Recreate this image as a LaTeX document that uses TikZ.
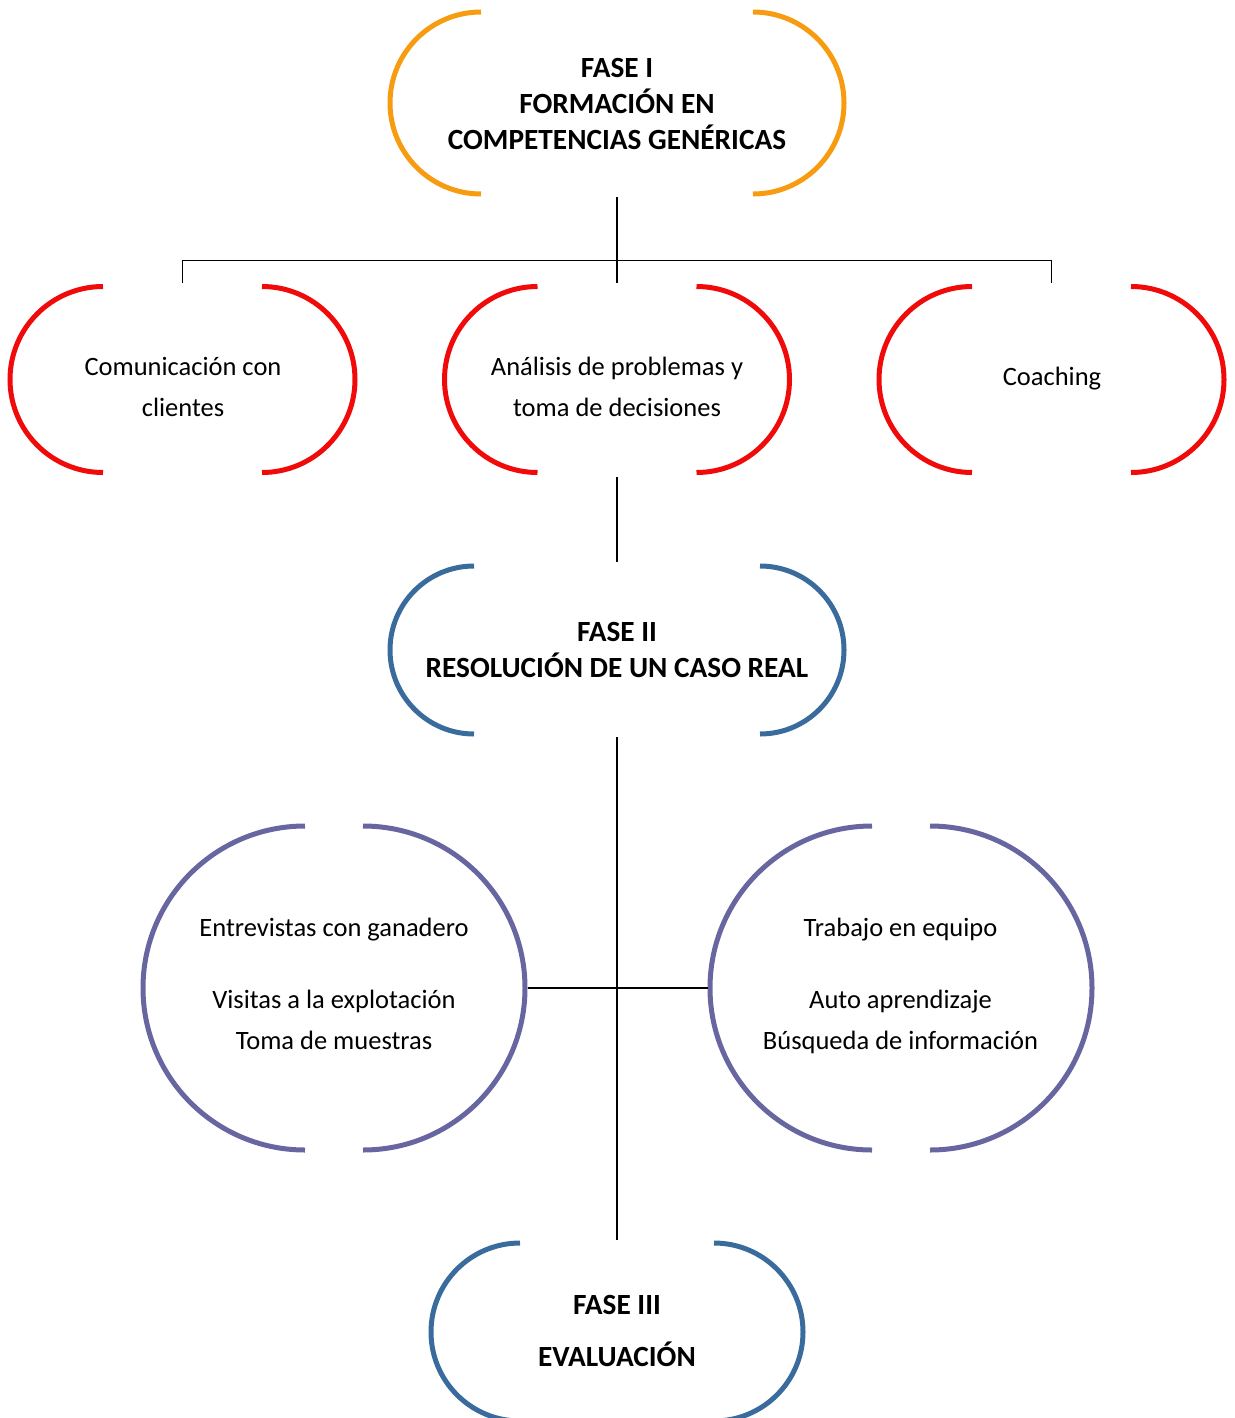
\documentclass[tikz,border=0pt]{standalone}
\usepackage{fontspec}
\setmainfont{Carlito}
\usetikzlibrary{calc}
\definecolor{cOrange}{HTML}{F79B10}
\definecolor{cRed}{HTML}{F00A0A}
\definecolor{cBlue}{HTML}{3A6B9D}
\definecolor{cPurple}{HTML}{6866A0}
\tikzset{
 box/.style={rectangle, inner sep=0pt, outer sep=0pt},
 arcline/.style={line width=5pt},
 conn/.style={line width=1.9pt, black},
 boldtxt/.style={align=center, font=\fontsize{29.3}{36}\selectfont\bfseries, inner sep=0pt},
 regtxt/.style={align=center, font=\fontsize{26.5}{41}\selectfont, inner sep=0pt},
}
\newcommand\stadiumarcs[3]{%
 \draw[arcline,#3] ($(#1.north west)+(#2,0)$) arc[start angle=90,end angle=270,radius=#2pt];
 \draw[arcline,#3] ($(#1.north east)-(#2,0)$) arc[start angle=90,end angle=-90,radius=#2pt];}
\begin{document}
\begin{tikzpicture}[x=1pt,y=-1pt]
\useasboundingbox (0,0) rectangle (1234,1418);
% shapes
\node[box, minimum width=454pt, minimum height=182pt] (f1) at (617,103) {};
\stadiumarcs{f1}{91}{cOrange}
\node[box, minimum width=345pt, minimum height=186pt] (c1) at (182.5,379.5) {};
\stadiumarcs{c1}{93}{cRed}
\node[box, minimum width=345pt, minimum height=186pt] (c2) at (617,379.5) {};
\stadiumarcs{c2}{93}{cRed}
\node[box, minimum width=345pt, minimum height=186pt] (c3) at (1051.5,379.5) {};
\stadiumarcs{c3}{93}{cRed}
\node[box, minimum width=454pt, minimum height=168pt] (f2) at (617,650) {};
\stadiumarcs{f2}{84}{cBlue}
\node[box, minimum width=372pt, minimum height=178pt] (f3) at (617,1332) {};
\stadiumarcs{f3}{89}{cBlue}
\node[box, minimum width=382pt, minimum height=324pt] (p1) at (334,988) {};
\stadiumarcs{p1}{162}{cPurple}
\node[box, minimum width=382pt, minimum height=324pt] (p2) at (901,988) {};
\stadiumarcs{p2}{162}{cPurple}
% texts
\node[boldtxt] (f1t) at (617,106.8) {\strut FASE I\\\strut FORMACIÓN EN\\\strut COMPETENCIAS GENÉRICAS};
\node[regtxt] (c1t) at (183,387.8) {\strut Comunicación con\\\strut clientes};
\node[regtxt] (c2t) at (617,387.8) {\strut Análisis de problemas y\\\strut toma de decisiones};
\node[regtxt] (c3t) at (1052,376.8) {\strut Coaching};
\node[boldtxt] (f2t) at (617,652) {\strut FASE II\\\strut RESOLUCIÓN DE UN CASO REAL};
\node[regtxt] (p1t) at (334,984.7) {\strut Entrevistas con ganadero\\[31.3pt]\strut Visitas a la explotación\\\strut Toma de muestras};
\node[regtxt] (p2t) at (900.5,984.7) {\strut Trabajo en equipo\\[31.3pt]\strut Auto aprendizaje\\\strut Búsqueda de información};
\node[boldtxt] (f3t) at (617,1333.6) {\strut FASE III\\[15.7pt]\strut EVALUACIÓN};
% connectors
\draw[conn, shorten <=3pt, shorten >=4pt] (f1.south) -- (c2.north);
\draw[conn] ([yshift=4pt]c1.north) |- ([yshift=26pt]c2.north) -| ([yshift=4pt]c3.north);
\draw[conn, shorten <=4pt, shorten >=4pt] (c2.south) -- (f2.north);
\draw[conn, shorten <=3pt, shorten >=3pt] (f2.south) -- (f3.north);
\draw[conn, shorten <=2.5pt, shorten >=2.5pt] (p1.east) -- (p2.west);
\end{tikzpicture}
\end{document}
